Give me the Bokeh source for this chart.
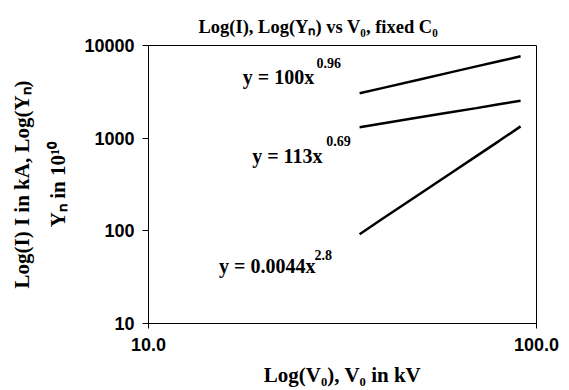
from bokeh.plotting import figure
from bokeh.models import FixedTicker, Label
from bokeh.embed import file_html
from bokeh.resources import INLINE

# data
v0 = [35, 40, 50, 60, 70, 80, 91]
y_top = [3050, 3470, 4300, 5130, 5950, 6760, 7650]
y_mid = [1310, 1440, 1680, 1900, 2110, 2320, 2540]
y_low = [92, 134, 250, 415, 640, 930, 1340]

x_ticks = [10, 100]
x_tick_labels = ["10.0", "100.0"]
y_ticks = [10, 100, 1000, 10000]
y_tick_labels = ["10", "100", "1000", "10000"]

eq_text = ["y = 100x", "y = 113x", "y = 0.0044x"]
eq_pow = ["0.96", "0.69", "2.8"]

SERIF = "Liberation Serif"
SANS = "Liberation Sans"

p = figure(width=569, height=390, x_axis_type="log", y_axis_type="log",
           x_range=(10, 100), y_range=(10, 10000),
           output_backend="svg", toolbar_location=None,
           min_border_left=148, min_border_right=33,
           min_border_top=45, min_border_bottom=67)

p.title.text = "Log(I), Log(Yₙ) vs V₀, fixed C₀"
p.title.text_font = SERIF
p.title.text_font_size = "18.5px"
p.title.text_font_style = "bold"
p.title.text_color = "black"
p.title.align = "left"
p.title.offset = 50
p.title.standoff = 18

p.xgrid.visible = False
p.ygrid.visible = False
p.outline_line_color = "black"
p.outline_line_width = 1
p.background_fill_color = "white"
p.border_fill_color = "white"

for ax in (p.xaxis[0], p.yaxis[0]):
    ax.minor_tick_line_color = None
    ax.axis_line_color = "black"
    ax.major_tick_line_color = "black"
    ax.major_label_text_font = SANS
    ax.major_label_text_font_style = "bold"
    ax.major_label_text_font_size = "18px"
    ax.major_label_text_color = "black"
    ax.axis_label_text_font = SERIF
    ax.axis_label_text_font_style = "bold"
    ax.axis_label_text_color = "black"

p.xaxis.ticker = FixedTicker(ticks=x_ticks)
p.xaxis.major_label_overrides = {t: s for t, s in zip(x_ticks, x_tick_labels)}
p.xaxis.major_tick_in = 0
p.xaxis.major_tick_out = 5
p.xaxis.major_label_standoff = 9
p.xaxis.axis_label = "Log(V₀), V₀ in kV"
p.xaxis.axis_label_text_font_size = "21px"
p.xaxis.axis_label_standoff = 9

p.yaxis.ticker = FixedTicker(ticks=y_ticks)
p.yaxis.major_label_overrides = {t: s for t, s in zip(y_ticks, y_tick_labels)}
p.yaxis.major_tick_in = 0
p.yaxis.major_tick_out = 6
p.yaxis.major_label_standoff = 8
p.yaxis.axis_label = "Log(I) I in kA, Log(Yₙ)\nYₙ in 10¹⁰"
p.yaxis.axis_label_text_font_size = "21px"
p.yaxis.axis_label_text_line_height = 1.5
p.yaxis.axis_label_standoff = 11

for ys in (y_top, y_mid, y_low):
    p.line(v0, ys, line_color="black", line_width=2.5)

eq_pos = [(17.5, 3780), (18.5, 530), (15.2, 33.9)]
for (ex, ey), t in zip(eq_pos, eq_text):
    p.add_layout(Label(x=ex, y=ey, text=t, text_font=SERIF, text_font_style="bold",
                       text_font_size="20px", text_color="black",
                       text_baseline="alphabetic", text_align="left", y_offset=8))

pow_pos = [(27.1, 5700), (28.7, 820), (26.8, 48.8)]
for (ex, ey), pw in zip(pow_pos, eq_pow):
    p.add_layout(Label(x=ex, y=ey, text=pw, text_font=SERIF, text_font_style="bold",
                       text_font_size="14px", text_color="black",
                       text_baseline="alphabetic", text_align="left", y_offset=5))

open("out.html", "w").write(file_html(p, INLINE))
